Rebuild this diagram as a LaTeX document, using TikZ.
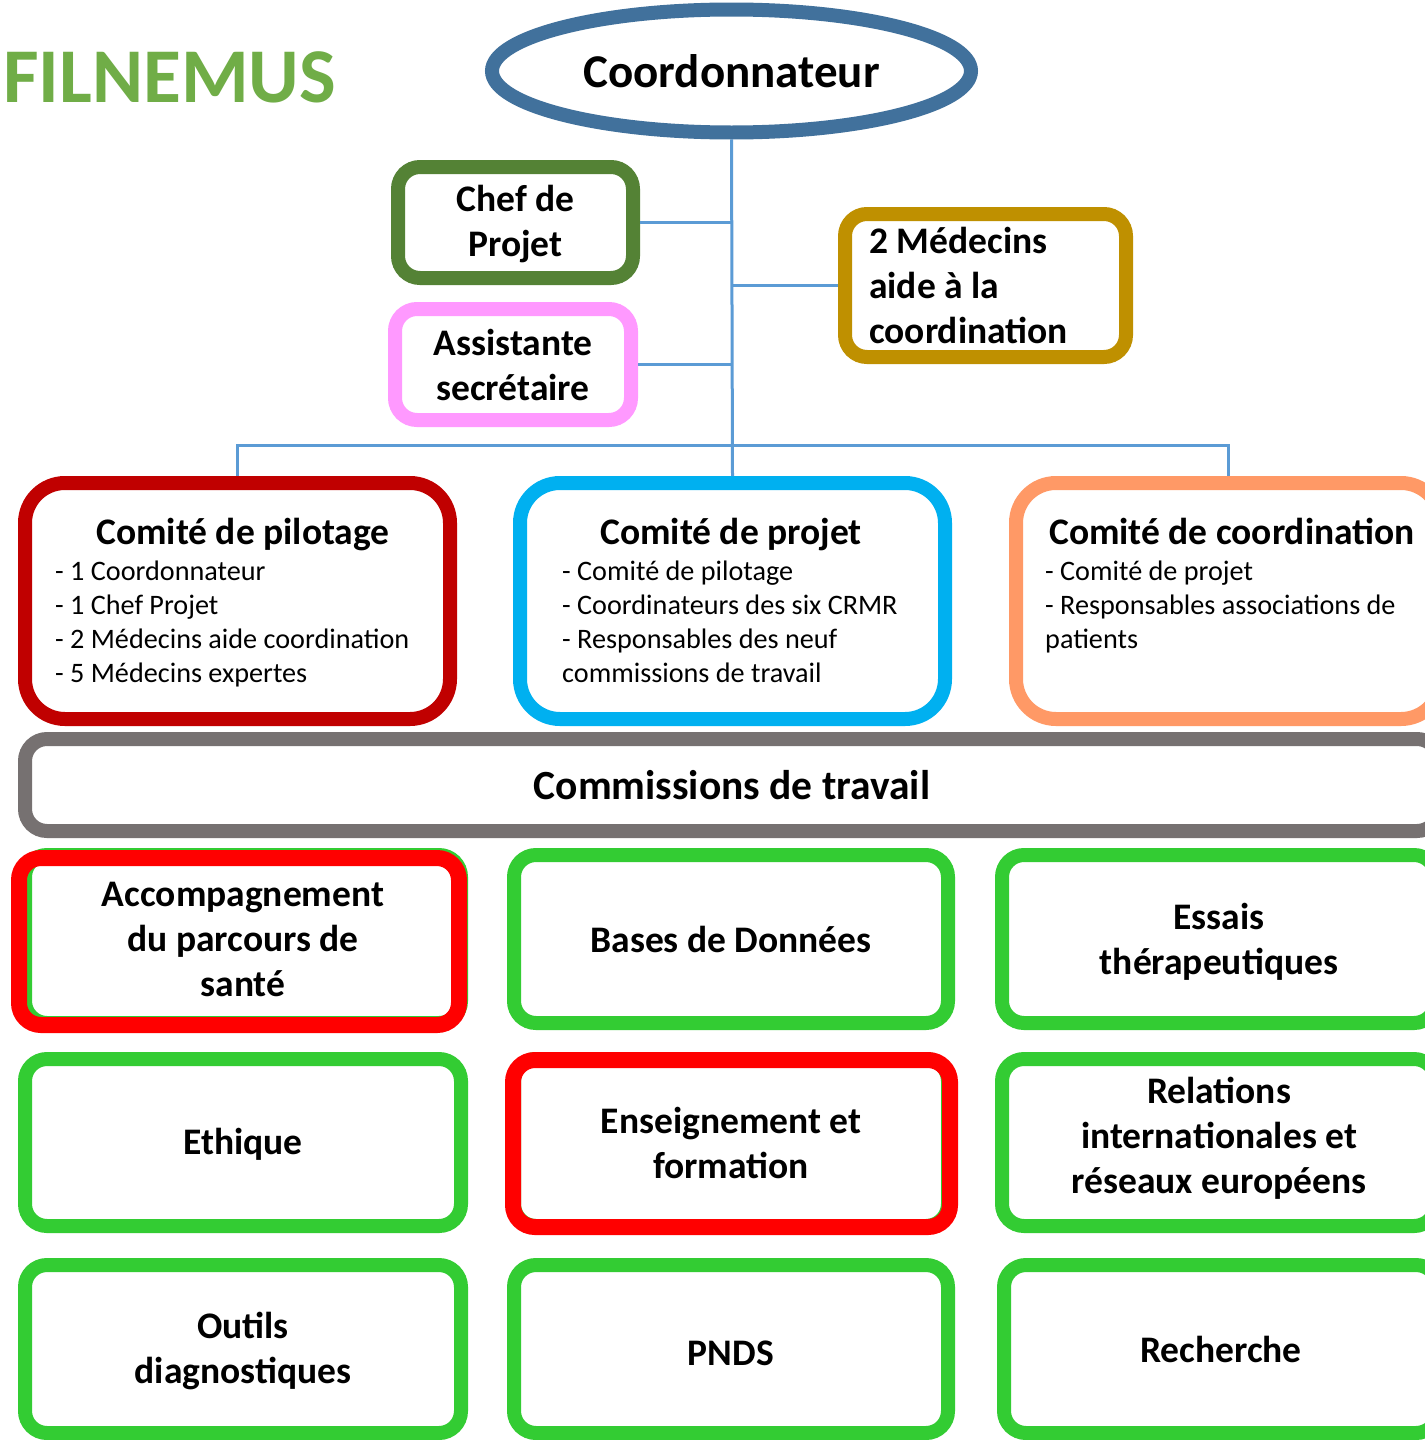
\documentclass[tikz,border=0pt]{standalone}
\usepackage{fontspec}
\setmainfont{Carlito}
\usetikzlibrary{shapes.geometric}
\definecolor{titlegreen}{HTML}{70AD47}
\definecolor{coordblue}{HTML}{41719C}
\definecolor{chefgreen}{HTML}{548235}
\definecolor{pinkc}{HTML}{FF99FF}
\definecolor{goldc}{HTML}{BF9000}
\definecolor{connblue}{HTML}{5B9BD5}
\definecolor{pilred}{HTML}{C00000}
\definecolor{projblue}{HTML}{00B0F0}
\definecolor{orangec}{HTML}{FF9966}
\definecolor{grayc}{HTML}{767171}
\definecolor{boxgreen}{HTML}{33CC33}
\definecolor{boxred}{HTML}{FF0000}
\newcommand\fbig{\fontsize{37.5}{45}\selectfont\bfseries}
\newcommand\fitem{\fontsize{28.2}{34}\selectfont}
\tikzset{
 box/.style={draw, rounded corners=22pt, line width=14pt, fill=white, inner sep=0pt, align=center, font=\fbig},
 cbox/.style={box, rounded corners=40pt, minimum width=425pt, minimum height=236pt},
 gbox/.style={box, draw=boxgreen, minimum width=434pt, minimum height=168pt},
 rbox/.style={box, draw=boxred, fill=none, line width=16pt, minimum width=438pt, minimum height=167pt},
 conn/.style={draw=connblue, line width=3pt},
 itemtxt/.style={anchor=base west, inner sep=0pt, font=\fitem},
 ctitle/.style={anchor=base, inner sep=0pt, font=\fbig},
 btxt/.style={inner sep=0pt, align=center, font=\fbig},
}
\begin{document}
\begin{tikzpicture}[x=1pt,y=-1pt]
\useasboundingbox (0,0) rectangle (1424,1440);
\fill[white] (0,0) rectangle (1424,1440);

% title
\node[anchor=base west, inner sep=0pt, text=titlegreen, font=\fontsize{77.5}{90}\selectfont\bfseries] (filn) at (3,102) {FILNEMUS};

% top
\node[ellipse, draw=coordblue, line width=14pt, fill=white, minimum width=479pt, minimum height=123pt, inner sep=0pt, font=\fontsize{47}{56}\selectfont\bfseries] (coord) at (731.5,71) {Coordonnateur};

\node[box, draw=chefgreen, minimum width=235pt, minimum height=111pt] (chef) at (515.5,222.5) {};
\node[btxt] (cheft) at (515.5,224.5) {Chef de\\Projet};
\node[box, draw=pinkc, minimum width=236pt, minimum height=111pt] (assist) at (513,364.5) {Assistante\\secrétaire};
\node[box, draw=goldc, minimum width=281pt, minimum height=143pt] (med) at (985.5,285.5) {};
\node[anchor=base west, inner sep=0pt, font=\fbig] (med1) at (869,253) {2 Médecins};
\node[anchor=base west, inner sep=0pt, font=\fbig] (med2) at (869,298) {aide à la};
\node[anchor=base west, inner sep=0pt, font=\fbig] (med3) at (869,343) {coordination};

% comites
\node[cbox, draw=pilred] (pil) at (237.5,601) {};
\node[cbox, draw=projblue] (proj) at (732.5,601) {};
\node[cbox, draw=orangec] (coordi) at (1228.5,601) {};

\node[ctitle] (pilt) at (243,544) {Comité de pilotage};
\node[itemtxt] (pil1) at (55,580) {- 1 Coordonnateur};
\node[itemtxt] (pil2) at (55,614) {- 1 Chef Projet};
\node[itemtxt] (pil3) at (55,648) {- 2 Médecins aide coordination};
\node[itemtxt] (pil4) at (55,682) {- 5 Médecins expertes};

\node[ctitle] (projt) at (731,544) {Comité de projet};
\node[itemtxt] (proj1) at (562,580) {- Comité de pilotage};
\node[itemtxt] (proj2) at (562,614) {- Coordinateurs des six CRMR};
\node[itemtxt] (proj3) at (562,648) {- Responsables des neuf};
\node[itemtxt] (proj4) at (562,682) {commissions de travail};

\node[ctitle] (coordt) at (1232,544) {Comité de coordination};
\node[itemtxt] (coord1) at (1045,580) {- Comité de projet};
\node[itemtxt] (coord2) at (1045,614) {- Responsables associations de};
\node[itemtxt] (coord3) at (1045,648) {patients};

% commissions
\node[box, draw=grayc, rounded corners=22pt, minimum width=1414pt, minimum height=92pt, font=\fontsize{41.5}{48}\selectfont\bfseries] (comm) at (732,785) {Commissions de travail};

% grid
\node[gbox, minimum width=436pt] (b1) at (243,939) {Accompagnement\\du parcours de\\santé};
\node[rbox, minimum width=440pt] (r1) at (239,941.5) {};
\node[gbox] (b2) at (731,939) {Bases de Données};
\node[gbox] (b3) at (1219,939) {};
\node[btxt] (b3t) at (1219,942) {Essais\\thérapeutiques};

\node[gbox, minimum width=436pt, minimum height=167pt] (b4) at (243,1142.5) {};
\node[btxt] (b4t) at (243,1144) {Ethique};
\node[gbox, minimum height=167pt] (b5) at (731,1142.5) {Enseignement et\\formation};
\node[rbox, minimum width=437pt] (r5) at (731.5,1143.5) {};
\node[gbox, minimum height=167pt] (b6) at (1219,1142.5) {};
\node[btxt] (b6t) at (1219,1138) {Relations\\internationales et\\réseaux européens};

\node[gbox, minimum width=436pt] (b7) at (243,1349) {};
\node[btxt] (b7t) at (243,1350.5) {Outils\\diagnostiques};
\node[gbox] (b8) at (731,1349) {};
\node[btxt] (b8t) at (731,1353) {PNDS};
\node[gbox] (b9) at (1221,1349) {};
\node[btxt] (b9t) at (1221,1349) {Recherche};

% connectors
\coordinate (bus) at (732.5,445);
\draw[conn] (coord.south) -- (proj.north);
\draw[conn] (chef.east) -- (chef.east -| proj.north);
\draw[conn] (assist.east) -- (assist.east -| proj.north);
\draw[conn] (med.west) -- (med.west -| proj.north);
\draw[conn] (pil.north) |- (bus) -| (coordi.north);
\end{tikzpicture}
\end{document}
